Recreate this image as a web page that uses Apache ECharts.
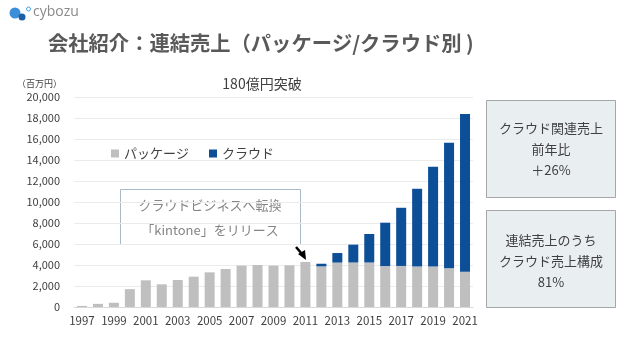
<!DOCTYPE html>
<html>
<head>
<meta charset="utf-8">
<script src="https://cdn.jsdelivr.net/npm/echarts@6/dist/echarts.min.js"></script>
<style>
html,body{margin:0;padding:0;background:#fff;}
#chart{width:640px;height:360px;}
</style>
</head>
<body>
<div id="chart"></div>
<script>
var years = ['1997','1998','1999','2000','2001','2002','2003','2004','2005','2006','2007','2008','2009','2010','2011','2012','2013','2014','2015','2016','2017','2018','2019','2020','2021'];
var packageSales = [100,300,400,1700,2540,2160,2570,2890,3300,3620,3940,4000,3940,3970,4290,3870,4230,4240,4240,3900,3910,3860,3850,3680,3360];
var cloudSales = [null,null,null,null,null,null,null,null,null,null,null,null,null,null,null,250,910,1700,2710,4130,5540,7400,9500,11970,15020];
var seriesNames = ['パッケージ','クラウド'];
var yTicks = {min:0, max:20000, interval:2000};

var FONT = '"Noto Sans CJK JP","Noto Sans",sans-serif';
var chart = echarts.init(document.getElementById('chart'), null, {renderer:'canvas'});
chart.setOption({
  animation:false,
  textStyle:{fontFamily:FONT},
  grid:{left:74, right:167, top:97, bottom:53, containLabel:false},
  legend:{
    data:seriesNames, left:106, top:142, icon:'rect', itemWidth:8, itemHeight:8, itemGap:20,
    textStyle:{fontSize:13, color:'#404040', fontFamily:FONT}
  },
  xAxis:{
    type:'category', data:years,
    axisLine:{lineStyle:{color:'#d9d9d9'}},
    axisTick:{show:false},
    axisLabel:{interval:1, color:'#404040', fontSize:11.5, margin:8, fontFamily:FONT}
  },
  yAxis:{
    type:'value', min:yTicks.min, max:yTicks.max, interval:yTicks.interval,
    axisLine:{show:false}, axisTick:{show:false},
    splitLine:{lineStyle:{color:'#ebebeb'}},
    axisLabel:{color:'#404040', fontSize:11, margin:14, fontFamily:FONT,
      formatter:function(v){return v.toLocaleString('en-US');}}
  },
  series:[
    {name:seriesNames[0], type:'bar', stack:'s', data:packageSales, barWidth:10, itemStyle:{color:'#bfbfbf'}},
    {name:seriesNames[1], type:'bar', stack:'s', data:cloudSales, barWidth:10, itemStyle:{color:'#0c4f97'}}
  ],
  graphic:[
    {type:'circle', shape:{cx:15, cy:13, r:5.5}, style:{fill:'#3b8fd8'}},
    {type:'circle', shape:{cx:22, cy:17, r:3.5}, style:{fill:'#1f5fa8'}},
    {type:'circle', shape:{cx:28.5, cy:9, r:2}, style:{fill:'none', stroke:'#4aa0e0', lineWidth:1}},
    {type:'text', left:33, top:5, style:{text:'cybozu', fontSize:14, fill:'#8a8a8a', fontFamily:'"Open Sans",sans-serif'}},
    {type:'text', left:48, top:33, style:{text:'会社紹介：連結売上（パッケージ/クラウド別 )', fontSize:20.3, fontWeight:'bold', fill:'#595959', fontFamily:FONT}},
    {type:'text', left:17, top:79, style:{text:'（百万円）', fontSize:9, fill:'#404040', fontFamily:FONT}},
    {type:'text', x:262, y:84, style:{text:'180億円突破', fontSize:14, fill:'#404040', fontFamily:FONT, align:'center', verticalAlign:'middle'}},
    {type:'rect', shape:{x:120.5, y:189.5, width:180, height:55}, style:{fill:'#ffffff', stroke:'#a9bac6', lineWidth:1}},
    {type:'text', x:210, y:205, style:{text:'クラウドビジネスへ転換', fontSize:13, fill:'#858585', fontFamily:FONT, align:'center', verticalAlign:'middle'}},
    {type:'text', x:210, y:230, style:{text:'「kintone」をリリース', fontSize:13, fill:'#858585', fontFamily:FONT, align:'center', verticalAlign:'middle'}},
    {type:'line', shape:{x1:296, y1:247, x2:302, y2:254}, style:{stroke:'#000', lineWidth:2.5}},
    {type:'polygon', shape:{points:[[298,254],[306,260],[305,250]]}, style:{fill:'#000'}},
    {type:'rect', shape:{x:486.5, y:100.5, width:129, height:97}, style:{fill:'#e9eef1', stroke:'#a6a6a6', lineWidth:1}},
    {type:'text', x:551, y:128, style:{text:'クラウド関連売上', fontSize:13, fill:'#404040', fontFamily:FONT, align:'center', verticalAlign:'middle'}},
    {type:'text', x:551, y:149, style:{text:'前年比', fontSize:13, fill:'#404040', fontFamily:FONT, align:'center', verticalAlign:'middle'}},
    {type:'text', x:551, y:170, style:{text:'＋26%', fontSize:13, fill:'#404040', fontFamily:FONT, align:'center', verticalAlign:'middle'}},
    {type:'rect', shape:{x:486.5, y:210.5, width:129, height:97}, style:{fill:'#e9eef1', stroke:'#a6a6a6', lineWidth:1}},
    {type:'text', x:551, y:240, style:{text:'連結売上のうち', fontSize:13, fill:'#404040', fontFamily:FONT, align:'center', verticalAlign:'middle'}},
    {type:'text', x:551, y:261, style:{text:'クラウド売上構成', fontSize:13, fill:'#404040', fontFamily:FONT, align:'center', verticalAlign:'middle'}},
    {type:'text', x:551, y:282, style:{text:'81%', fontSize:13, fill:'#404040', fontFamily:FONT, align:'center', verticalAlign:'middle'}}
  ]
});
</script>
</body>
</html>
